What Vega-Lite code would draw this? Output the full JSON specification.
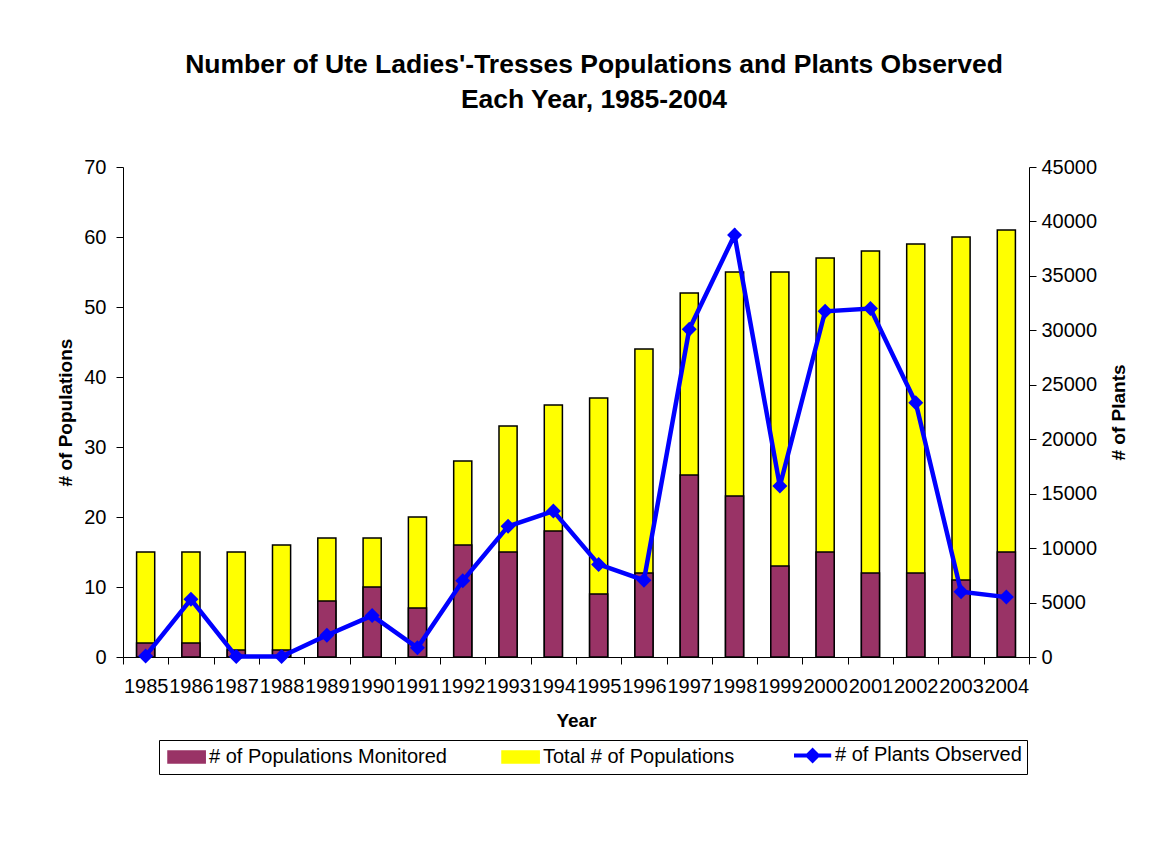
{
  "$schema": "https://vega.github.io/schema/vega-lite/v6.json",
  "width": 906,
  "height": 490,
  "autosize": {"type": "none"},
  "padding": {"left": 123, "top": 167, "right": 145, "bottom": 185},
  "background": "white",
  "config": {
    "font": "Liberation Sans",
    "view": {"stroke": null},
    "axis": {"grid": false, "domainColor": "#000000", "tickColor": "#000000", "labelColor": "#000000", "titleColor": "#000000", "labelFont": "Liberation Sans", "titleFont": "Liberation Sans", "labelFontSize": 20, "titleFontSize": 19, "titleFontWeight": "bold", "tickSize": 7, "domainWidth": 1, "tickWidth": 1}
  },
  "title": {
    "text": ["Number of Ute Ladies'-Tresses Populations and Plants Observed", "Each Year, 1985-2004"],
    "fontSize": 26.5,
    "fontWeight": "bold",
    "font": "Liberation Sans",
    "color": "#000000",
    "lineHeight": 35,
    "anchor": "middle",
    "dx": 18,
    "dy": -40
  },
  "data": {
    "values": [
      {"year": "1985", "total": 15, "monitored": 2, "plants": 100},
      {"year": "1986", "total": 15, "monitored": 2, "plants": 5300},
      {"year": "1987", "total": 15, "monitored": 1, "plants": 40},
      {"year": "1988", "total": 16, "monitored": 1, "plants": 50},
      {"year": "1989", "total": 17, "monitored": 8, "plants": 2000},
      {"year": "1990", "total": 17, "monitored": 10, "plants": 3800},
      {"year": "1991", "total": 20, "monitored": 7, "plants": 850},
      {"year": "1992", "total": 28, "monitored": 16, "plants": 7000},
      {"year": "1993", "total": 33, "monitored": 15, "plants": 12000},
      {"year": "1994", "total": 36, "monitored": 18, "plants": 13400},
      {"year": "1995", "total": 37, "monitored": 9, "plants": 8500},
      {"year": "1996", "total": 44, "monitored": 12, "plants": 7050},
      {"year": "1997", "total": 52, "monitored": 26, "plants": 30100},
      {"year": "1998", "total": 55, "monitored": 23, "plants": 38750},
      {"year": "1999", "total": 55, "monitored": 13, "plants": 15700},
      {"year": "2000", "total": 57, "monitored": 15, "plants": 31750},
      {"year": "2001", "total": 58, "monitored": 12, "plants": 32000},
      {"year": "2002", "total": 59, "monitored": 12, "plants": 23350},
      {"year": "2003", "total": 60, "monitored": 11, "plants": 6000},
      {"year": "2004", "total": 61, "monitored": 15, "plants": 5500}
    ]
  },
  "encoding": {
    "x": {
      "field": "year",
      "type": "ordinal",
      "scale": {"paddingInner": 0, "paddingOuter": 0},
      "axis": {"title": "Year", "labelAngle": 0, "tickBand": "extent", "labelPadding": 12, "titlePadding": 15, "labelOverlap": false}
    }
  },
  "layer": [
    {
      "encoding": {
        "y": {
          "type": "quantitative",
          "scale": {"domain": [0, 70]},
          "axis": {"title": "# of Populations", "values": [0, 10, 20, 30, 40, 50, 60, 70], "labelPadding": 10, "titlePadding": 8, "orient": "left"}
        }
      },
      "layer": [
        {
          "mark": {"type": "bar", "width": {"band": 0.4}, "stroke": "#000000", "strokeWidth": 1.5},
          "encoding": {
            "y": {"field": "total"},
            "color": {
              "datum": "Total # of Populations",
              "type": "nominal",
              "scale": {
                "domain": ["# of Populations Monitored", "Total # of Populations", "# of Plants Observed"],
                "range": ["#993366", "#FFFF00", "#0000FF"]
              },
              "legend": {
                "title": null,
                "orient": "none",
                "legendX": 36,
                "legendY": 573,
                "direction": "horizontal",
                "columns": 3,
                "labelFont": "Liberation Sans",
                "labelFontSize": 20,
                "labelColor": "#000000",
                "labelLimit": 0,
                "symbolSize": 144,
                "labelOffset": 25,
                "columnPadding": 51,
                "padding": 5,
                "strokeColor": "#000000",
                "fillColor": "#FFFFFF",
                "symbolOpacity": 1,
                "symbolType": {"expr": "datum.label === '# of Plants Observed' ? 'M-1,0H5.2M2.1,-0.85L2.95,0L2.1,0.85L1.25,0Z' : 'M-1,-1H5.2V1H-1Z'"},
                "symbolStrokeWidth": {"expr": "datum.label === '# of Plants Observed' ? 4 : 1.5"},
                "symbolStrokeColor": {"expr": "datum.label === '# of Plants Observed' ? '#0000FF' : '#000000'"}
              }
            }
          }
        },
        {
          "mark": {"type": "bar", "width": {"band": 0.4}, "stroke": "#000000", "strokeWidth": 1.5},
          "encoding": {
            "y": {"field": "monitored"},
            "color": {"datum": "# of Populations Monitored", "type": "nominal"}
          }
        }
      ]
    },
    {
      "encoding": {
        "y": {
          "field": "plants",
          "type": "quantitative",
          "scale": {"domain": [0, 45000]},
          "axis": {"title": "# of Plants", "orient": "right", "values": [0, 5000, 10000, 15000, 20000, 25000, 30000, 35000, 40000, 45000], "format": "d", "labelPadding": 5, "titlePadding": 32, "titleAngle": 270}
        }
      },
      "layer": [
        {
          "mark": {"type": "line", "strokeWidth": 4.5},
          "encoding": {"color": {"datum": "# of Plants Observed", "type": "nominal"}}
        },
        {
          "mark": {"type": "point", "shape": "diamond", "filled": true, "size": 225, "opacity": 1},
          "encoding": {"color": {"datum": "# of Plants Observed", "type": "nominal"}}
        }
      ]
    }
  ],
  "resolve": {"scale": {"y": "independent"}}
}
